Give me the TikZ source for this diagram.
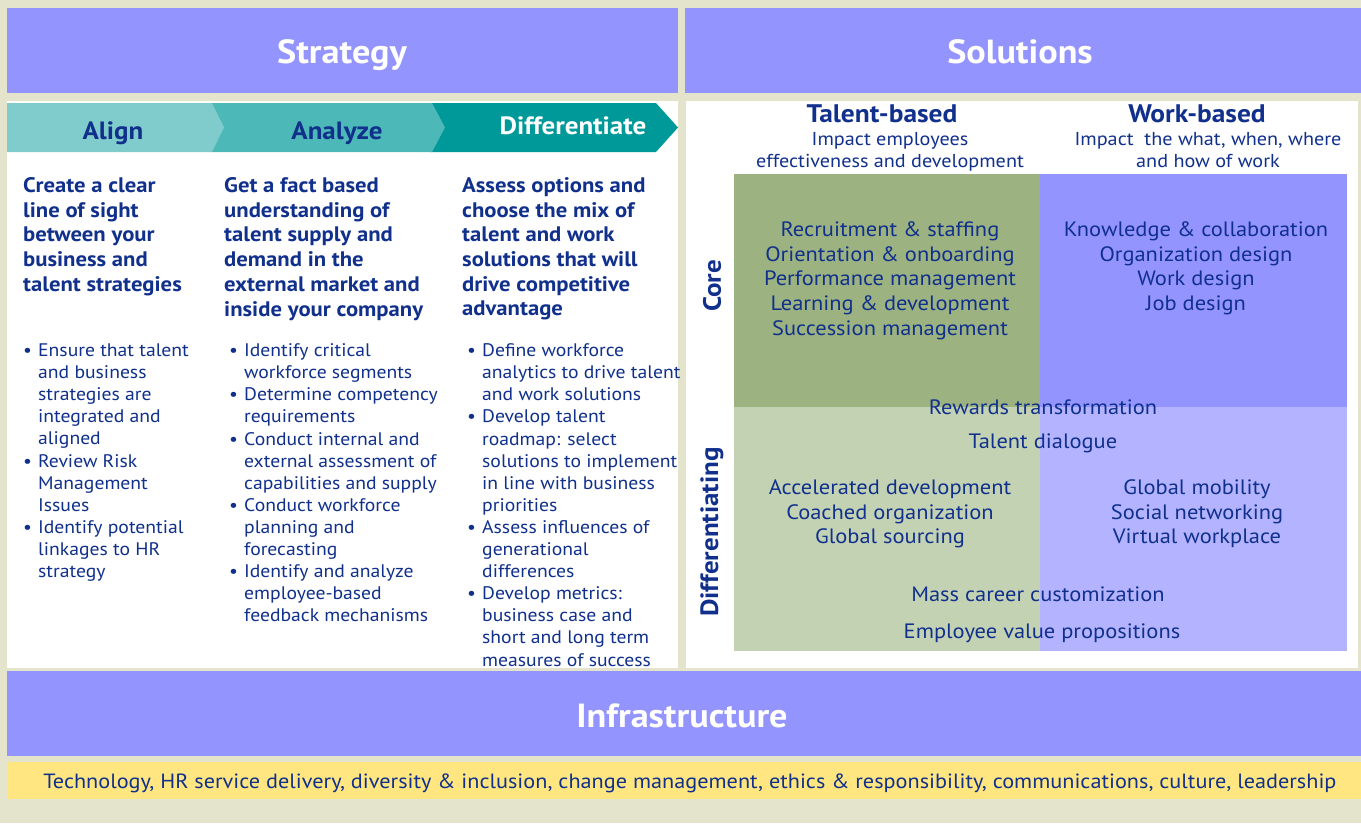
\documentclass[tikz,border=0pt]{standalone}
\usepackage{fontspec}
\setmainfont{PT Sans}[FakeStretch=1.08]
\definecolor{bgc}{RGB}{228,228,204}
\definecolor{peri}{RGB}{148,148,255}
\definecolor{perilt}{RGB}{179,179,255}
\definecolor{olive}{RGB}{156,178,128}
\definecolor{olivelt}{RGB}{196,210,180}
\definecolor{tealA}{RGB}{128,204,204}
\definecolor{tealB}{RGB}{77,184,184}
\definecolor{tealC}{RGB}{0,153,153}
\definecolor{ink}{RGB}{16,48,140}
\definecolor{sand}{RGB}{255,230,128}
\newcommand\bul{\makebox[15pt][l]{\textbullet}}
\newcommand\ind{\hspace*{15pt}}
\tikzset{
  band/.style={fill=peri, inner sep=0, anchor=north west},
  bandtext/.style={text=white, inner sep=0, anchor=base,
    font=\bfseries\fontsize{33.5}{38}\selectfont},
  chev/.style={anchor=base, font=\bfseries\fontsize{25}{29}\selectfont, inner sep=0},
  lead/.style={anchor=north west, inner sep=0, text=ink, align=left,
    font=\bfseries\fontsize{21}{24.7}\selectfont},
  blist/.style={anchor=north west, inner sep=0, text=ink, align=left,
    font=\fontsize{18.2}{22.1}\selectfont},
  cell/.style={anchor=north, inner sep=0, text=ink, align=center,
    font=\fontsize{20.8}{24.7}\selectfont},
  colhead/.style={anchor=north, inner sep=0, text=ink, align=center,
    font=\fontsize{18.7}{22}\selectfont},
  colname/.style={inner sep=0, text=ink, font=\bfseries\fontsize{25.4}{29}\selectfont},
  rowname/.style={inner sep=0, text=ink, rotate=90, font=\bfseries\fontsize{25}{29}\selectfont}
}
\begin{document}
\begin{tikzpicture}[x=1pt,y=-1pt]
\useasboundingbox (0,0) rectangle (1361,823);
\fill[bgc] (0,0) rectangle (1361,823);

% top bands
\node[band, minimum width=671pt, minimum height=85pt] (strategy) at (7,8) {};
\node[bandtext] (strategylabel) at (342,63) {Strategy};
\node[band, minimum width=676pt, minimum height=85pt] (solutions) at (685,8) {};
\node[bandtext] (solutionslabel) at (1020,63) {Solutions};

% white panels
\fill[white] (7,101) rectangle (678,668);
\fill[white] (686,101) rectangle (1358,668);

% process chevrons
\fill[tealC] (430,103) -- (656,103) -- (678,127.5) -- (656,152) -- (430,152) -- cycle;
\fill[tealB] (212,103) -- (432,103) -- (445,127.5) -- (432,152) -- (212,152) -- cycle;
\fill[tealA] (7,103) -- (212,103) -- (224,127.5) -- (212,152) -- (7,152) -- cycle;
\node[chev, text=ink] (align) at (113,139) {Align};
\node[chev, text=ink] (analyze) at (337,139) {Analyze};
\node[chev, text=white] (differentiate) at (573,134) {Differentiate};

% column goals
\node[lead] (goal1) at (23,177.3) {Create a clear\\line of sight\\between your\\business and\\talent strategies};
\node[lead] (goal2) at (224,177.3) {Get a fact based\\understanding of\\talent supply and\\demand in the\\external market and\\inside your company};
\node[lead] (goal3) at (462,177.3) {Assess options and\\choose the mix of\\talent and work\\solutions that will\\drive competitive\\advantage};

% column actions
\node[blist] (acts1) at (23,343.6) {\bul Ensure that talent\\\ind and business\\\ind strategies are\\\ind integrated and\\\ind aligned\\
\bul Review Risk\\\ind Management\\\ind Issues\\
\bul Identify potential\\\ind linkages to HR\\\ind strategy};
\node[blist] (acts2) at (229,343.6) {\bul Identify critical\\\ind workforce segments\\
\bul Determine competency\\\ind requirements\\
\bul Conduct internal and\\\ind external assessment of\\\ind capabilities and supply\\
\bul Conduct workforce\\\ind planning and\\\ind forecasting\\
\bul Identify and analyze\\\ind employee-based\\\ind feedback mechanisms};
\node[blist] (acts3) at (467,343.6) {\bul Define workforce\\\ind analytics to drive talent\\\ind and work solutions\\
\bul Develop talent\\\ind roadmap: select\\\ind solutions to implement\\\ind in line with business\\\ind priorities\\
\bul Assess influences of\\\ind generational\\\ind differences\\
\bul Develop metrics:\\\ind business case and\\\ind short and long term\\\ind measures of success};

% solution quadrants
\fill[olive]   (734,174) rectangle (1040,407);
\fill[peri]    (1040,174) rectangle (1347,407);
\fill[olivelt] (734,407) rectangle (1040,651);
\fill[perilt]  (1040,407) rectangle (1347,651);

\node[colname] (talent) at (882,114) {Talent-based};
\node[colhead] (talentsub) at (890,132.4) {Impact employees\\effectiveness and development};
\node[colname] (work) at (1197,114) {Work-based};
\node[colhead] (worksub) at (1208,132.4) {Impact\ \ the what, when, where\\and how of work};

\node[rowname] (core) at (712,286) {Core};
\node[rowname] (diff) at (712,532) {Differentiating};

\node[cell] (coretalent) at (890,221.4) {Recruitment \& staffing\\Orientation \& onboarding\\Performance management\\Learning \& development\\Succession management};
\node[cell] (corework) at (1196,221.4) {Knowledge \& collaboration\\Organization design\\Work design\\Job design};
\node[cell] (rewards) at (1043,399.4) {Rewards transformation};
\node[cell] (dialogue) at (1043,433.4) {Talent dialogue};
\node[cell] (difftalent) at (890,479.4) {Accelerated development\\Coached organization\\Global sourcing};
\node[cell] (diffwork) at (1197,479.4) {Global mobility\\Social networking\\Virtual workplace};
\node[cell] (mass) at (1038,586.4) {Mass career customization};
\node[cell] (evp) at (1042,623.4) {Employee value propositions};

% infrastructure
\node[band, minimum width=1354pt, minimum height=85pt] (infra) at (7,671) {};
\node[bandtext] (infralabel) at (682,727) {Infrastructure};
\fill[sand] (7,762) rectangle (1361,799);
\node[cell, anchor=base, font=\fontsize{20.6}{24}\selectfont] (enablers) at (690,788) {Technology, HR service delivery, diversity \& inclusion, change management, ethics \& responsibility, communications, culture, leadership};
\end{tikzpicture}
\end{document}
